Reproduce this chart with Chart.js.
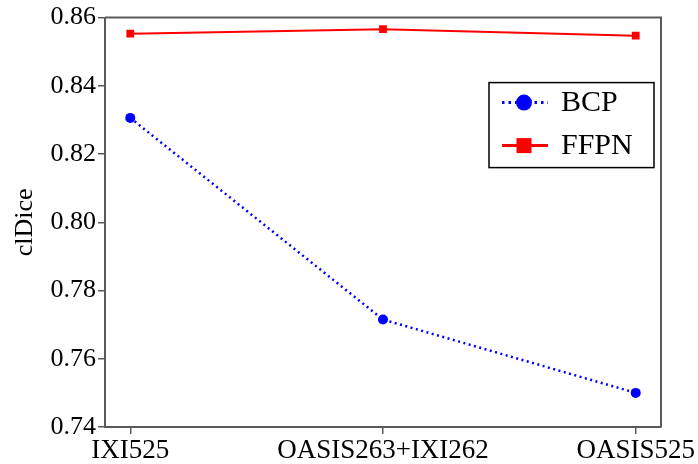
<!DOCTYPE html>
<html>
<head>
<meta charset="utf-8">
<script src="https://cdn.jsdelivr.net/npm/chart.js@4.4.1/dist/chart.umd.min.js"></script>
<style>
  html, body { margin: 0; padding: 0; background: #fff; }
  #wrap { width: 698px; height: 464px; }
</style>
</head>
<body>
<div id="wrap"><canvas id="chart" width="698" height="464"></canvas></div>
<script>
var categories = ['IXI525', 'OASIS263+IXI262', 'OASIS525'];
var bcpValues = [0.8306, 0.7715, 0.7500];
var ffpnValues = [0.8553, 0.8566, 0.8547];
var yTicks = [0.74, 0.76, 0.78, 0.80, 0.82, 0.84, 0.86];

var serif = "'Liberation Serif', 'Times New Roman', serif";
var axisColor = '#5a5a5a';

function toPoints(values) {
    return values.map(function(v, i) { return { x: i, y: v }; });
}

// frame on the top and right sides of the plot
var framePlugin = {
    id: 'frame',
    afterDatasetsDraw: function(chart) {
        var a = chart.chartArea, ctx = chart.ctx;
        ctx.save();
        ctx.strokeStyle = axisColor;
        ctx.lineWidth = 2;
        ctx.beginPath();
        ctx.moveTo(a.left, a.top);
        ctx.lineTo(a.right, a.top);
        ctx.lineTo(a.right, a.bottom);
        ctx.stroke();
        ctx.restore();
    }
};

// legend drawn inside the plot, boxed
var boxLegend = {
    id: 'boxLegend',
    afterDraw: function(chart) {
        var a = chart.chartArea, ctx = chart.ctx;
        var left = a.right - 172, top = a.top + 65, w = 165, h = 85;
        ctx.save();
        ctx.fillStyle = '#fff';
        ctx.fillRect(left, top, w, h);
        ctx.strokeStyle = '#000';
        ctx.lineWidth = 1.5;
        ctx.strokeRect(left, top, w, h);
        chart.data.datasets.forEach(function(ds, i) {
            var cy = top + 20 + i * 43;
            var x0 = left + 13, x1 = left + 59, mx = left + 35;
            ctx.strokeStyle = ds.borderColor;
            ctx.lineWidth = 3;
            ctx.setLineDash(ds.borderDash ? [2.5, 4] : []);
            ctx.beginPath();
            ctx.moveTo(x0, cy);
            ctx.lineTo(x1, cy);
            ctx.stroke();
            ctx.setLineDash([]);
            ctx.fillStyle = ds.pointBackgroundColor;
            if (ds.pointStyle === 'rect') {
                ctx.fillRect(mx - 7.5, cy - 7.5, 15, 15);
            } else {
                ctx.beginPath();
                ctx.arc(mx, cy, 8, 0, Math.PI * 2);
                ctx.fill();
            }
            ctx.fillStyle = '#000';
            ctx.font = '30px ' + serif;
            ctx.textBaseline = 'middle';
            ctx.textAlign = 'left';
            ctx.fillText(ds.label, left + 72, cy + 1);
        });
        ctx.restore();
    }
};

new Chart(document.getElementById('chart').getContext('2d'), {
    type: 'line',
    data: {
        datasets: [{
            label: 'BCP',
            data: toPoints(bcpValues),
            borderColor: '#0000ff',
            backgroundColor: '#0000ff',
            pointBackgroundColor: '#0000ff',
            pointBorderColor: '#0000ff',
            borderWidth: 2.5,
            borderDash: [2, 3.5],
            pointStyle: 'circle',
            pointRadius: 5,
            pointBorderWidth: 0,
            tension: 0
        }, {
            label: 'FFPN',
            data: toPoints(ffpnValues),
            borderColor: '#ff0000',
            backgroundColor: '#ff0000',
            pointBackgroundColor: '#ff0000',
            pointBorderColor: '#ff0000',
            borderWidth: 2,
            pointStyle: 'rect',
            pointRadius: 5.5,
            pointBorderWidth: 0,
            tension: 0
        }]
    },
    options: {
        responsive: false,
        animation: false,
        layout: { padding: { top: 14, right: 37, left: 0, bottom: 0 } },
        plugins: { legend: { display: false }, tooltip: { enabled: false } },
        scales: {
            x: {
                type: 'linear',
                min: -0.1,
                max: 2.1,
                afterBuildTicks: function(scale) {
                    scale.ticks = categories.map(function(c, i) { return { value: i }; });
                },
                afterFit: function(scale) { scale.height = 37; },
                ticks: {
                    callback: function(v) { return categories[v]; },
                    color: '#000',
                    font: { family: serif, size: 27 },
                    padding: 1,
                    maxRotation: 0,
                    autoSkip: false
                },
                grid: { display: true, drawOnChartArea: false, drawTicks: true, tickLength: 7, color: axisColor, lineWidth: 1.5 },
                border: { display: true, color: axisColor, width: 2 }
            },
            y: {
                min: 0.74,
                max: 0.86,
                afterBuildTicks: function(scale) {
                    scale.ticks = yTicks.map(function(v) { return { value: v }; });
                },
                afterFit: function(scale) { scale.width = 105; },
                ticks: {
                    callback: function(v) { return v.toFixed(2); },
                    color: '#000',
                    font: { family: serif, size: 26 },
                    padding: 2
                },
                title: {
                    display: true,
                    text: 'clDice',
                    color: '#000',
                    font: { family: serif, size: 26 },
                    padding: { top: 10, bottom: 0 }
                },
                grid: { display: true, drawOnChartArea: false, drawTicks: true, tickLength: 7, color: axisColor, lineWidth: 1.5 },
                border: { display: true, color: axisColor, width: 2 }
            }
        }
    },
    plugins: [framePlugin, boxLegend]
});
</script>
</body>
</html>
